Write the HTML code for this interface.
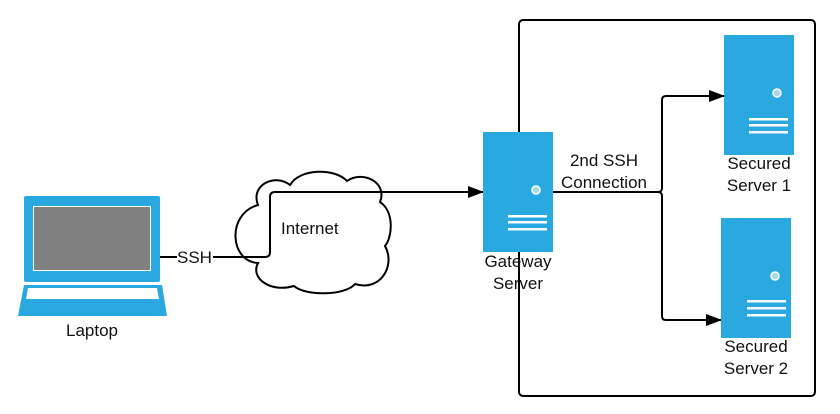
<!DOCTYPE html>
<html><head><style>body{margin:0;background:#fff}svg{display:block}text{font-family:"Liberation Sans",sans-serif;font-size:17px;fill:#111}</style></head>
<body>
<svg width="840" height="414" viewBox="0 0 840 414" xmlns="http://www.w3.org/2000/svg">
<defs><marker id="a" markerWidth="16" markerHeight="12" refX="15" refY="6" orient="auto" markerUnits="userSpaceOnUse"><path d="M0,0 L16,6 L0,12 Z" fill="#000"/></marker></defs>
<rect x="519" y="20" width="296" height="376" rx="4" fill="none" stroke="#000" stroke-width="2"/>
<!-- laptop -->
<rect x="24" y="196" width="136" height="86" rx="2" fill="#29a9e0"/>
<rect x="33" y="206" width="118" height="65" fill="#fff"/>
<rect x="34" y="207" width="116" height="63" fill="#808080"/>
<path d="M24,285 L162,285 L167,316 L18,316 Z" fill="#29a9e0"/>
<path d="M28,288 L157,288 L159,299 L26,299 Z" fill="#fff"/>
<text x="92" y="336" text-anchor="middle">Laptop</text>
<!-- cloud -->
<path d="M258,205 C250,185 275,173 290,185 C300,168 335,168 347,181 C362,170 388,182 380,202 C395,212 392,238 385,246 C396,266 380,292 355,284 C345,296 305,296 294,286 C270,293 250,278 258,263 C230,262 226,214 258,205 Z" fill="#fff" stroke="#000" stroke-width="2"/>
<path d="M160,257 L177,257 M213,257 L265,257 Q270,257 270,252 L270,197 Q270,192 275,192 L483,192" fill="none" stroke="#000" stroke-width="2" marker-end="url(#a)"/>
<text x="177" y="263">SSH</text>
<text x="281" y="234">Internet</text>
<!-- gateway -->
<rect x="483" y="132" width="70" height="120" fill="#29a9e0"/>
<circle cx="536" cy="190" r="4" fill="#a8d8f0" stroke="#fff" stroke-width="1.5"/>
<rect x="508" y="215" width="39" height="2.5" fill="#fff"/><rect x="508" y="221" width="39" height="2.5" fill="#fff"/><rect x="508" y="228" width="39" height="2.5" fill="#fff"/>
<text x="518" y="267" text-anchor="middle">Gateway</text>
<text x="518" y="289" text-anchor="middle">Server</text>
<!-- connectors -->
<path d="M553,192 L658,192 Q662,192 662,188 L662,100 Q662,96 666,96 L724,96" fill="none" stroke="#000" stroke-width="2" marker-end="url(#a)"/>
<path d="M658,192 Q662,192 662,196 L662,316 Q662,320 666,320 L721,320" fill="none" stroke="#000" stroke-width="2" marker-end="url(#a)"/>
<text x="604" y="166" text-anchor="middle">2nd SSH</text>
<text x="604" y="188" text-anchor="middle">Connection</text>
<!-- server1 -->
<rect x="724" y="35" width="70" height="120" fill="#29a9e0"/>
<circle cx="777" cy="93" r="4" fill="#a8d8f0" stroke="#fff" stroke-width="1.5"/>
<rect x="749" y="118" width="39" height="2.5" fill="#fff"/><rect x="749" y="124" width="39" height="2.5" fill="#fff"/><rect x="749" y="131" width="39" height="2.5" fill="#fff"/>
<text x="759" y="169" text-anchor="middle">Secured</text>
<text x="759" y="191" text-anchor="middle">Server 1</text>
<!-- server2 -->
<rect x="721" y="218" width="70" height="120" fill="#29a9e0"/>
<circle cx="775" cy="276" r="4" fill="#a8d8f0" stroke="#fff" stroke-width="1.5"/>
<rect x="747" y="300" width="39" height="2.5" fill="#fff"/><rect x="747" y="307" width="39" height="2.5" fill="#fff"/><rect x="747" y="314" width="39" height="2.5" fill="#fff"/>
<text x="756" y="352" text-anchor="middle">Secured</text>
<text x="756" y="374" text-anchor="middle">Server 2</text>
</svg>
</body></html>
